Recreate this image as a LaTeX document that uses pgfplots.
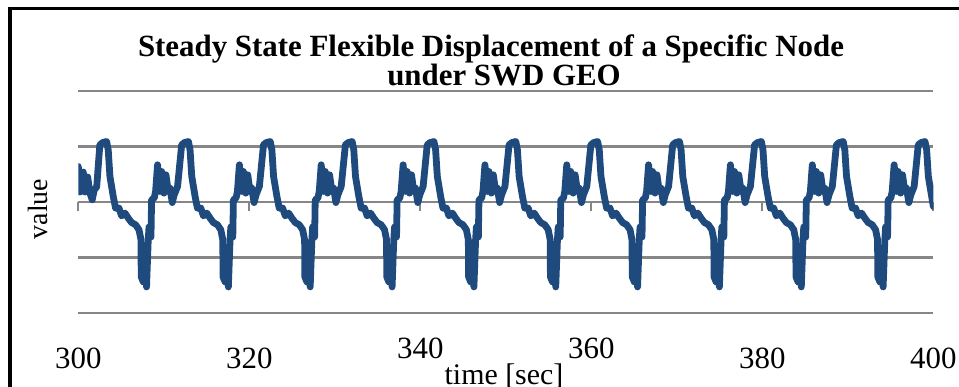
\documentclass[border=0pt]{standalone}
\usepackage{pgfplots}
\pgfplotsset{compat=1.18}
\usepackage{fontspec}
\setmainfont{Liberation Serif}
\definecolor{serblue}{RGB}{31,74,126}
\definecolor{gridgray}{RGB}{134,134,134}
\begin{document}
\begin{tikzpicture}
\useasboundingbox (0,0) rectangle (959bp,387bp);
\clip (0,0) rectangle (959bp,387bp);
\begin{axis}[
  at={(78.3bp,74bp)}, anchor=south west,
  scale only axis, width=855bp, height=222bp,
  xmin=300, xmax=400, ymin=-2, ymax=2,
  axis x line=middle, axis y line=left,
  hide obscured x ticks=false,
  axis line style={-},
  every inner x axis line/.append style={-},
  x axis line style={draw=gridgray, line width=2bp, -},
  y axis line style={draw=none},
  xtick={300,320,340,360,380,400},
  xticklabels={300,320,\raisebox{10bp}{340},\raisebox{10bp}{360},380,400},
  ytick={-2,-1,0,1,2}, yticklabels={},
  major y tick style={draw=none},
  tick align=outside,
  major tick length=9bp,
  major x tick style={draw=gridgray, line width=2bp},
  ymajorgrids,
  major grid style={draw=gridgray, line width=2.2bp},
  xticklabel style={anchor=base, yshift=-157.6bp, font=\fontsize{31}{36}\selectfont},
  /pgf/number format/assume math mode=true,
  clip mode=individual,
]
\addplot[serblue, line width=6.8bp, line join=round, line cap=round] coordinates {
(300.00,0.64)(300.19,0.18)(300.58,0.54)(300.78,0.18)(301.10,0.45)(301.36,0.16)(301.63,0.04)(301.87,0.22)(302.15,0.27)
(302.52,1.03)(302.84,1.07)(303.31,1.09)(303.50,0.94)(303.70,0.46)(304.09,0.10)(304.36,-0.11)(304.76,-0.11)(305.06,-0.25)(305.46,-0.20)(305.84,-0.29)(306.23,-0.37)(306.70,-0.41)(307.10,-0.50)(307.33,-0.68)(307.36,-1.35)(307.60,-1.44)(307.80,-1.10)(307.98,-1.53)(308.18,-0.68)(308.27,-0.45)(308.50,-0.63)(308.57,0.04)(308.88,0.07)(309.04,0.19)(309.27,0.67)(309.55,0.19)(309.74,0.55)(310.02,0.16)(310.25,0.49)(310.52,0.19)(310.72,0.25)(310.99,-0.01)(311.22,0.13)(311.61,0.28)
(312.09,1.03)(312.41,1.07)(312.88,1.09)(313.07,0.94)(313.27,0.46)(313.66,0.10)(313.93,-0.11)(314.33,-0.11)(314.63,-0.25)(315.03,-0.20)(315.41,-0.29)(315.80,-0.37)(316.27,-0.41)(316.67,-0.50)(316.90,-0.68)(316.93,-1.35)(317.17,-1.44)(317.37,-1.10)(317.55,-1.53)(317.75,-0.68)(317.84,-0.45)(318.07,-0.63)(318.14,0.04)(318.45,0.07)(318.61,0.19)(318.84,0.67)(319.12,0.19)(319.31,0.55)(319.59,0.16)(319.82,0.49)(320.09,0.19)(320.29,0.25)(320.56,-0.01)(320.79,0.13)(321.18,0.28)
(321.66,1.03)(321.98,1.07)(322.45,1.09)(322.64,0.94)(322.84,0.46)(323.23,0.10)(323.50,-0.11)(323.90,-0.11)(324.20,-0.25)(324.60,-0.20)(324.98,-0.29)(325.37,-0.37)(325.84,-0.41)(326.24,-0.50)(326.47,-0.68)(326.50,-1.35)(326.74,-1.44)(326.94,-1.10)(327.12,-1.53)(327.32,-0.68)(327.41,-0.45)(327.64,-0.63)(327.71,0.04)(328.02,0.07)(328.18,0.19)(328.41,0.67)(328.69,0.19)(328.88,0.55)(329.16,0.16)(329.39,0.49)(329.66,0.19)(329.86,0.25)(330.13,-0.01)(330.36,0.13)(330.75,0.28)
(331.24,1.03)(331.56,1.07)(332.03,1.09)(332.22,0.94)(332.42,0.46)(332.81,0.10)(333.08,-0.11)(333.48,-0.11)(333.78,-0.25)(334.18,-0.20)(334.56,-0.29)(334.95,-0.37)(335.42,-0.41)(335.82,-0.50)(336.05,-0.68)(336.08,-1.35)(336.32,-1.44)(336.52,-1.10)(336.70,-1.53)(336.90,-0.68)(336.99,-0.45)(337.22,-0.63)(337.29,0.04)(337.60,0.07)(337.76,0.19)(337.99,0.67)(338.27,0.19)(338.46,0.55)(338.74,0.16)(338.97,0.49)(339.24,0.19)(339.44,0.25)(339.71,-0.01)(339.94,0.13)(340.33,0.28)
(340.81,1.03)(341.13,1.07)(341.60,1.09)(341.79,0.94)(341.99,0.46)(342.38,0.10)(342.65,-0.11)(343.05,-0.11)(343.35,-0.25)(343.75,-0.20)(344.13,-0.29)(344.52,-0.37)(344.99,-0.41)(345.39,-0.50)(345.62,-0.68)(345.65,-1.35)(345.89,-1.44)(346.09,-1.10)(346.27,-1.53)(346.47,-0.68)(346.56,-0.45)(346.79,-0.63)(346.86,0.04)(347.17,0.07)(347.33,0.19)(347.56,0.67)(347.84,0.19)(348.03,0.55)(348.31,0.16)(348.54,0.49)(348.81,0.19)(349.01,0.25)(349.28,-0.01)(349.51,0.13)(349.90,0.28)
(350.38,1.03)(350.70,1.07)(351.17,1.09)(351.36,0.94)(351.56,0.46)(351.95,0.10)(352.22,-0.11)(352.62,-0.11)(352.92,-0.25)(353.32,-0.20)(353.70,-0.29)(354.09,-0.37)(354.56,-0.41)(354.96,-0.50)(355.19,-0.68)(355.22,-1.35)(355.46,-1.44)(355.66,-1.10)(355.84,-1.53)(356.04,-0.68)(356.13,-0.45)(356.36,-0.63)(356.43,0.04)(356.74,0.07)(356.90,0.19)(357.13,0.67)(357.41,0.19)(357.60,0.55)(357.88,0.16)(358.11,0.49)(358.38,0.19)(358.58,0.25)(358.85,-0.01)(359.08,0.13)(359.47,0.28)
(359.95,1.03)(360.27,1.07)(360.74,1.09)(360.93,0.94)(361.13,0.46)(361.52,0.10)(361.79,-0.11)(362.19,-0.11)(362.49,-0.25)(362.89,-0.20)(363.27,-0.29)(363.66,-0.37)(364.13,-0.41)(364.53,-0.50)(364.76,-0.68)(364.79,-1.35)(365.03,-1.44)(365.23,-1.10)(365.41,-1.53)(365.61,-0.68)(365.70,-0.45)(365.93,-0.63)(366.00,0.04)(366.31,0.07)(366.47,0.19)(366.70,0.67)(366.98,0.19)(367.17,0.55)(367.45,0.16)(367.68,0.49)(367.95,0.19)(368.15,0.25)(368.42,-0.01)(368.65,0.13)(369.04,0.28)
(369.52,1.03)(369.84,1.07)(370.31,1.09)(370.50,0.94)(370.70,0.46)(371.09,0.10)(371.36,-0.11)(371.76,-0.11)(372.06,-0.25)(372.46,-0.20)(372.84,-0.29)(373.23,-0.37)(373.70,-0.41)(374.10,-0.50)(374.33,-0.68)(374.36,-1.35)(374.60,-1.44)(374.80,-1.10)(374.98,-1.53)(375.18,-0.68)(375.27,-0.45)(375.50,-0.63)(375.57,0.04)(375.88,0.07)(376.04,0.19)(376.27,0.67)(376.55,0.19)(376.74,0.55)(377.02,0.16)(377.25,0.49)(377.52,0.19)(377.72,0.25)(377.99,-0.01)(378.22,0.13)(378.61,0.28)
(379.10,1.03)(379.42,1.07)(379.89,1.09)(380.08,0.94)(380.28,0.46)(380.67,0.10)(380.94,-0.11)(381.34,-0.11)(381.64,-0.25)(382.04,-0.20)(382.42,-0.29)(382.81,-0.37)(383.28,-0.41)(383.68,-0.50)(383.91,-0.68)(383.94,-1.35)(384.18,-1.44)(384.38,-1.10)(384.56,-1.53)(384.76,-0.68)(384.85,-0.45)(385.08,-0.63)(385.15,0.04)(385.46,0.07)(385.62,0.19)(385.85,0.67)(386.13,0.19)(386.32,0.55)(386.60,0.16)(386.83,0.49)(387.10,0.19)(387.30,0.25)(387.57,-0.01)(387.80,0.13)(388.19,0.28)
(388.67,1.03)(388.99,1.07)(389.46,1.09)(389.65,0.94)(389.85,0.46)(390.24,0.10)(390.51,-0.11)(390.91,-0.11)(391.21,-0.25)(391.61,-0.20)(391.99,-0.29)(392.38,-0.37)(392.85,-0.41)(393.25,-0.50)(393.48,-0.68)(393.51,-1.35)(393.75,-1.44)(393.95,-1.10)(394.13,-1.53)(394.33,-0.68)(394.42,-0.45)(394.65,-0.63)(394.72,0.04)(395.03,0.07)(395.19,0.19)(395.42,0.67)(395.70,0.19)(395.89,0.55)(396.17,0.16)(396.40,0.49)(396.67,0.19)(396.87,0.25)(397.14,-0.01)(397.37,0.13)(397.76,0.28)
(398.24,1.03)(398.56,1.07)(399.03,1.09)(399.22,0.94)(399.42,0.46)(399.81,0.10)(400.00,-0.08)
};
\end{axis}
\node[anchor=base] at (491bp,330bp) {\fontsize{31}{36}\selectfont\bfseries Steady State Flexible Displacement of a Specific Node};
\node[anchor=base] at (504bp,301bp) {\fontsize{31}{36}\selectfont\bfseries under SWD GEO};
\node[anchor=base] at (504bp,3bp) {\fontsize{30}{36}\selectfont time [sec]};
\node[rotate=90, anchor=base] at (47bp,178bp) {\fontsize{28}{34}\selectfont value};
\draw[black, line width=4bp] (10bp,-5bp) -- (10bp,378.5bp);
\draw[black, line width=3bp] (8bp,378.5bp) -- (970bp,378.5bp);
\end{tikzpicture}
\end{document}
